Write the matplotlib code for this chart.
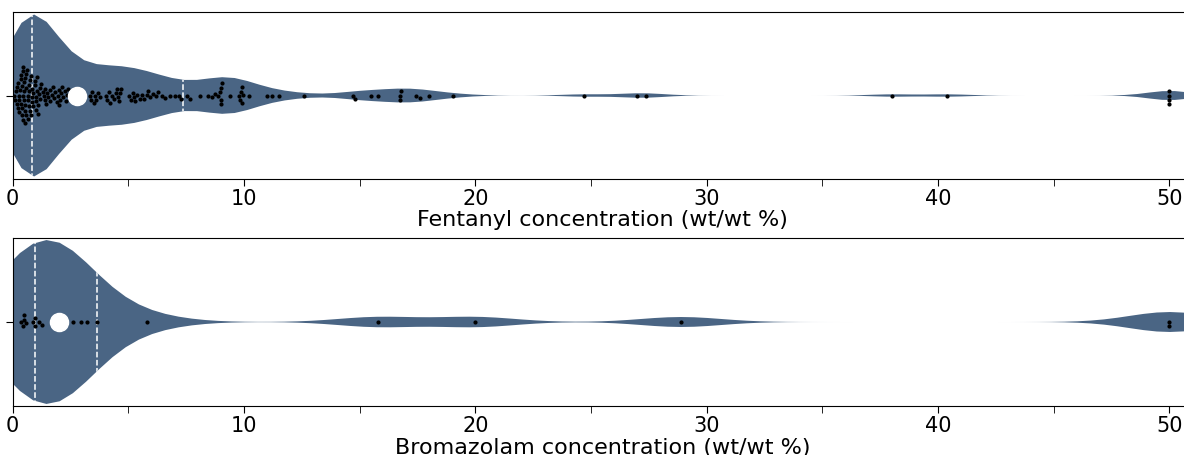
import numpy as np
import matplotlib
matplotlib.use("Agg")
from matplotlib import pyplot as plt
import seaborn as sns

fentanyl_low = [0.08, 0.12, 0.15, 0.18, 0.2, 0.22, 0.25, 0.27, 0.3, 0.3,
                0.32, 0.35, 0.35, 0.38, 0.4, 0.4, 0.42, 0.45, 0.45, 0.45,
                0.47, 0.5, 0.5, 0.5, 0.52, 0.55, 0.55, 0.55, 0.57, 0.6,
                0.6, 0.62, 0.65, 0.65, 0.68, 0.7, 0.7, 0.72, 0.75, 0.77,
                0.8, 0.8, 0.82, 0.82]
fentanyl_mid = [0.85, 0.9, 0.9, 0.95, 0.95, 1.0, 1.0, 1.0, 1.05, 1.05,
                1.1, 1.1, 1.15, 1.2, 1.2, 1.25, 1.3, 1.35, 1.4, 1.42,
                1.45, 1.48, 1.55, 1.6, 1.62, 1.7, 1.75, 1.8, 1.85, 1.9,
                1.95, 2.0, 2.02, 2.05, 2.1, 2.15, 2.2, 2.25, 2.3, 2.35,
                2.4, 2.55, 2.65, 2.75]
fentanyl_upper = [2.85, 2.95, 3.05, 3.35, 3.4, 3.45, 3.5, 3.55, 3.6, 3.7,
                  3.8, 4.05, 4.1, 4.15, 4.2, 4.3, 4.4, 4.45, 4.5, 4.55,
                  4.6, 4.65, 4.7, 5.05, 5.1, 5.2, 5.25, 5.3, 5.4, 5.5,
                  5.6, 5.7, 5.8, 5.85, 5.95, 6.05, 6.2, 6.3, 6.45, 6.6,
                  6.8, 7.0, 7.2, 7.3]
fentanyl_high = [7.53, 7.66, 8.1, 8.44, 8.61, 8.74, 8.9, 8.95, 9.0, 9.0,
                 9.02, 9.05, 9.39, 9.78, 9.82, 9.87, 9.9, 9.92, 9.96, 10.2,
                 11.0, 11.2, 11.5, 12.6, 14.7, 14.8, 15.5, 15.8, 16.75, 16.75,
                 16.8, 17.45, 17.6, 18.0, 19.05, 24.7, 27.0, 27.4, 38.0, 40.4,
                 50.0, 50.0, 50.0, 50.0]
fentanyl = np.array(fentanyl_low + fentanyl_mid + fentanyl_upper + fentanyl_high)

bromazolam = np.array([0.35, 0.45, 0.5, 0.5, 0.6, 0.87, 0.95, 0.95, 1.13, 1.26,
                       1.8, 1.9, 2.0, 2.1, 2.2, 2.6, 2.94, 3.2, 3.64, 5.8,
                       15.8, 20.0, 28.9, 50.0, 50.0])

labels = ["Fentanyl concentration (wt/wt %)", "Bromazolam concentration (wt/wt %)"]
bandwidths = [0.1, 0.12]
violin_color = "#4a6584"

fig = plt.figure(figsize=(11.84, 4.55), dpi=100)
ax1 = fig.add_axes([0.0106, 0.6066, 0.9966, 0.3670])
ax2 = fig.add_axes([0.0106, 0.1066, 0.9966, 0.3714])

for ax, vals, lab, bw in zip([ax1, ax2], [fentanyl, bromazolam], labels, bandwidths):
    sns.violinplot(x=vals, ax=ax, color=violin_color, saturation=1, inner=None,
                   linewidth=0, bw_method=bw, width=0.97, cut=2)
    body = ax.collections[0]
    # quartile lines, clipped to the violin body
    for q in np.percentile(vals, [25, 75]):
        ln = ax.axvline(q, color="white", ls="--", lw=1.1, zorder=3)
        ln.set_clip_path(body.get_paths()[0], body.get_transform())
    sns.swarmplot(x=vals, ax=ax, color="black", size=3)
    ax.scatter([np.median(vals)], [0], s=170, color="white", zorder=6)

    ax.set_xlim(0, 51)
    ax.set_ylim(0.5, -0.5)
    ax.set_xticks(range(0, 51, 10))
    ax.set_xticks(range(5, 51, 10), minor=True)
    ax.set_yticks([0])
    ax.set_yticklabels([])
    ax.tick_params(which="both", length=4.7, labelsize=15, pad=2.5)
    ax.set_xlabel(lab, fontsize=16, labelpad=1)

fig.savefig("out.png", dpi=100)
